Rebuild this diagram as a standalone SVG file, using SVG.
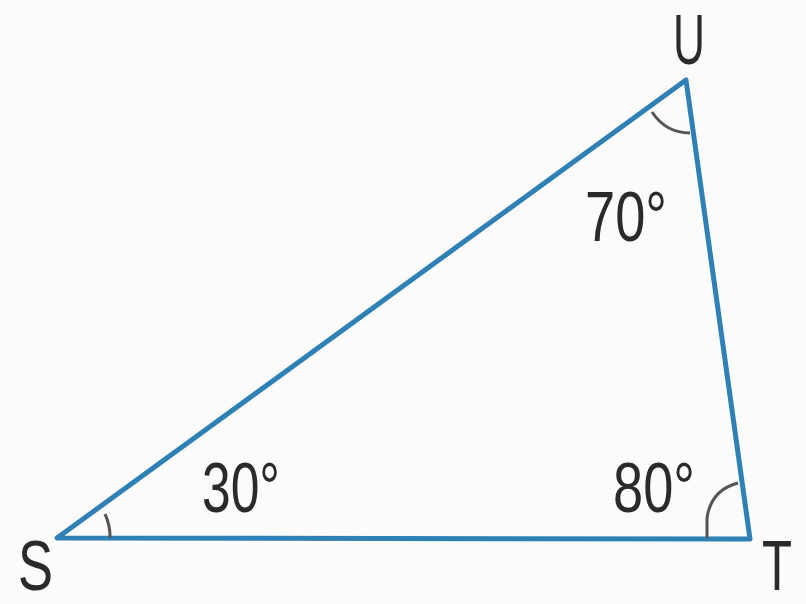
<svg xmlns="http://www.w3.org/2000/svg" width="806" height="604" viewBox="0 0 806 604">
<style>
.side{stroke:#2f80b5;stroke-width:5;fill:none;stroke-linecap:round;stroke-linejoin:round}
.arc{stroke:#555;stroke-width:3;fill:none}
.lbl{font-family:"Liberation Sans",Arial,sans-serif;font-size:70px;fill:#2a2a2a}
</style>
<rect width="806" height="604" fill="#fbfbfb"/>
<g id="connectors">
<path class="side" d="M57,538 L686,80 L750,539 Z"/>
</g>
<g id="angle-S">
<path class="arc" d="M110,538 A53,53 0 0 0 105,514"/>
<text class="lbl" x="202" y="512" textLength="78" lengthAdjust="spacingAndGlyphs">30°</text>
</g>
<g id="angle-T">
<path class="arc" d="M707,538 L707,518 Q711,490 738,483"/>
<text class="lbl" x="613" y="512" textLength="82" lengthAdjust="spacingAndGlyphs">80°</text>
</g>
<g id="angle-U">
<path class="arc" d="M652,112 Q666,133 690,133"/>
<text class="lbl" x="585" y="241" textLength="82" lengthAdjust="spacingAndGlyphs">70°</text>
</g>
<g id="vertex-S"><text class="lbl" x="18" y="590" font-size="60" textLength="35" lengthAdjust="spacingAndGlyphs">S</text></g>
<g id="vertex-T"><text class="lbl" x="762" y="590" font-size="60" textLength="30" lengthAdjust="spacingAndGlyphs">T</text></g>
<g id="vertex-U"><text class="lbl" x="673" y="64" textLength="32" lengthAdjust="spacingAndGlyphs">U</text></g>
</svg>
